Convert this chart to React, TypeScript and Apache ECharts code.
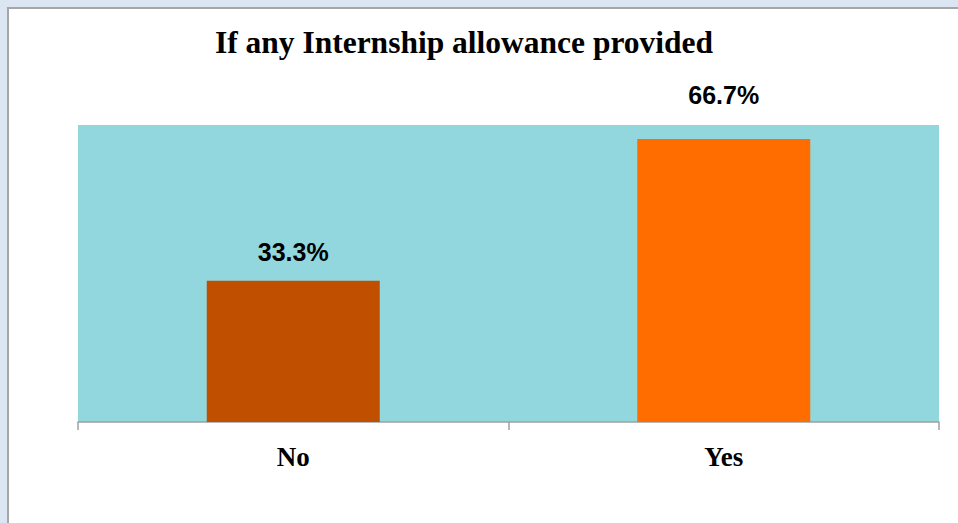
import React, { useEffect, useRef } from "react";
import * as echarts from "echarts";

const categories = ["No", "Yes"];
const values = [33.3, 66.7];
const barColors = ["#c05000", "#ff6d00"];
const labelDistances = [16, 32];
const titleText = "If any Internship allowance provided";

export default function App() {
  const ref = useRef<HTMLDivElement>(null);
  useEffect(() => {
    if (!ref.current) return;
    const chart = echarts.init(ref.current, null, { renderer: "svg" });
    chart.setOption({
      animation: false,
      backgroundColor: "#ffffff",
      title: {
        text: titleText,
        left: 450,
        textAlign: "center",
        top: 12,
        textStyle: {
          fontFamily: "Liberation Serif",
          fontWeight: "bold",
          fontSize: 31.5,
          color: "#000000",
        },
      },
      grid: {
        left: 69,
        top: 116,
        width: 861,
        height: 297,
        show: true,
        backgroundColor: "#92d7de",
        borderWidth: 0,
      },
      xAxis: {
        type: "category",
        data: categories,
        boundaryGap: true,
        axisLine: { show: true, lineStyle: { color: "#a0a0a0", width: 1.5 } },
        axisTick: { show: true, length: 8, lineStyle: { color: "#a0a0a0", width: 1.5 } },
        axisLabel: {
          margin: 21,
          fontFamily: "Liberation Serif",
          fontWeight: "bold",
          fontSize: 27,
          color: "#000000",
        },
      },
      yAxis: {
        type: "value",
        min: 0,
        max: 70,
        show: false,
        splitLine: { show: false },
      },
      series: [
        {
          type: "bar",
          barWidth: 173,
          data: values.map((v, i) => ({
            value: v,
            itemStyle: { color: barColors[i] },
            label: { distance: labelDistances[i] },
          })),
          label: {
            show: true,
            position: "top",
            formatter: (p: any) => p.value.toFixed(1) + "%",
            fontFamily: "Liberation Sans",
            fontWeight: "bold",
            fontSize: 25,
            color: "#000000",
          },
        },
      ],
    });
    return () => chart.dispose();
  }, []);
  return (
    <div
      style={{
        position: "fixed",
        left: 0,
        top: 0,
        width: 958,
        height: 523,
        background: "#dce6f2",
        overflow: "hidden",
      }}
    >
      <div
        style={{
          position: "absolute",
          left: 7,
          top: 7,
          width: 960,
          height: 530,
          borderLeft: "2px solid #a6a6a6",
          borderTop: "2px solid #a6a6a6",
          background: "#ffffff",
        }}
      >
        <div ref={ref} style={{ width: 960, height: 530 }} />
      </div>
    </div>
  );
}
